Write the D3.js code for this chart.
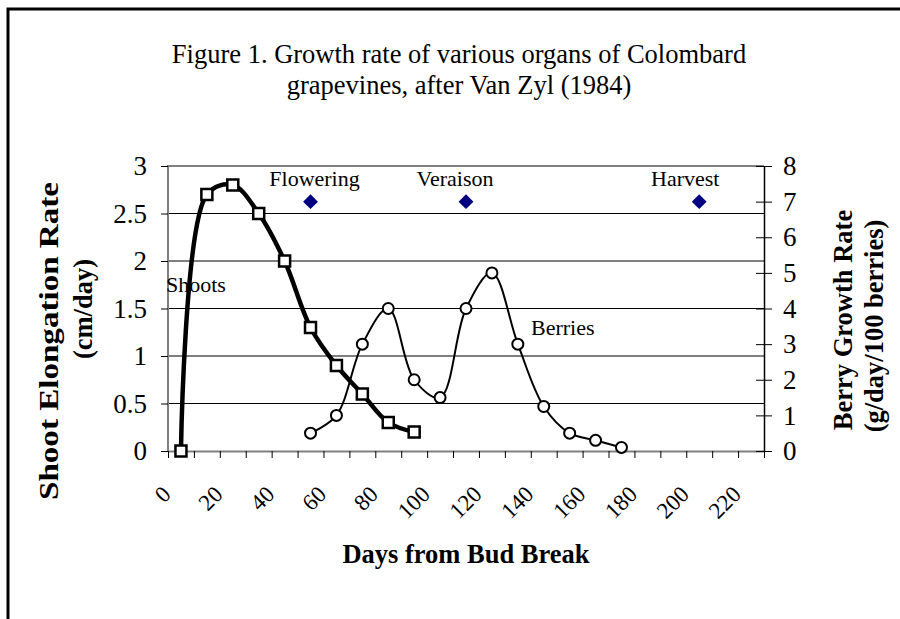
<!DOCTYPE html>
<html>
<head>
<meta charset="utf-8">
<script src="https://cdn.jsdelivr.net/npm/d3@7"></script>
<style>
  body { margin: 0; background: #fff; }
  svg { display: block; font-family: "Liberation Serif", "Times New Roman", serif; }
</style>
</head>
<body>
<script>
// data
var titleLines = ["Figure 1. Growth rate of various organs of Colombard", "grapevines, after Van Zyl (1984)"];

var shootDays = [5, 15, 25, 35, 45, 55, 65, 75, 85, 95];
var shootRate = [0, 2.7, 2.8, 2.5, 2.0, 1.3, 0.9, 0.6, 0.3, 0.2];

var berryDays = [55, 65, 75, 85, 95, 105, 115, 125, 135, 145, 155, 165, 175];
var berryRate = [0.5, 1, 3, 4, 2, 1.5, 4, 5, 3, 1.25, 0.5, 0.3, 0.1];

var stageNames = ["Flowering", "Veraison", "Harvest"];
var stageDays = [55, 115, 205];
var stageLevel = [7, 7, 7];

var xTicks = d3.range(0, 231, 10);
var xLabels = d3.range(0, 221, 20);
var leftTicks = [0, 0.5, 1, 1.5, 2, 2.5, 3];
var rightTicks = [0, 1, 2, 3, 4, 5, 6, 7, 8];

var width = 900, height = 619;
var plot = { left: 168, right: 764, top: 166, bottom: 451 };

var svg = d3.select("body").append("svg")
    .attr("width", width)
    .attr("height", height);

// outer frame (runs off the right and bottom edge)
svg.append("rect")
    .attr("x", 8).attr("y", 9)
    .attr("width", 1000).attr("height", 700)
    .attr("fill", "#fff")
    .attr("stroke", "#000")
    .attr("stroke-width", 3);

var x = d3.scaleLinear().domain([0, 230]).range([plot.left, plot.right]);
var yL = d3.scaleLinear().domain([0, 3]).range([plot.bottom, plot.top]);
var yR = d3.scaleLinear().domain([0, 8]).range([plot.bottom, plot.top]);

// title
svg.append("g").selectAll("text")
    .data(titleLines)
    .enter().append("text")
    .attr("x", 459)
    .attr("y", function(d, i) { return 63 + i * 31; })
    .attr("text-anchor", "middle")
    .style("font-size", "26.5px")
    .text(function(d) { return d; });

// gridlines
svg.append("g")
    .selectAll("line")
    .data(leftTicks.filter(function(d) { return d > 0 && d < 3; }))
    .enter().append("line")
    .attr("x1", plot.left).attr("x2", plot.right)
    .attr("y1", function(d) { return yL(d); })
    .attr("y2", function(d) { return yL(d); })
    .attr("stroke", "#000")
    .attr("stroke-width", 1);

// plot border (top + left)
svg.append("path")
    .attr("d", "M" + plot.left + "," + plot.bottom + "V" + plot.top + "H" + plot.right)
    .attr("fill", "none")
    .attr("stroke", "#808080")
    .attr("stroke-width", 2);

// x axis
var xAxis = svg.append("g")
    .attr("transform", "translate(0," + plot.bottom + ")")
    .call(d3.axisBottom(x)
        .tickValues(xTicks)
        .tickSize(7)
        .tickSizeOuter(0)
        .tickFormat(function(d) { return xLabels.indexOf(d) >= 0 ? d : ""; }));
xAxis.select(".domain").attr("stroke", "#808080").attr("stroke-width", 2);
xAxis.selectAll(".tick line").attr("stroke", "#000");
xAxis.selectAll(".tick text")
    .attr("x", 0).attr("y", 0).attr("dy", "0.35em")
    .attr("text-anchor", "end")
    .attr("transform", "translate(-2,39) rotate(-45)")
    .style("font-size", "23px")
    .style("font-family", "Liberation Serif");

// left axis
var leftAxis = svg.append("g")
    .attr("transform", "translate(" + plot.left + ",0)")
    .call(d3.axisLeft(yL)
        .tickValues(leftTicks)
        .tickSize(7)
        .tickPadding(14)
        .tickFormat(function(d) { return d; }));
leftAxis.select(".domain").remove();
leftAxis.selectAll(".tick text")
    .style("font-size", "27px")
    .style("font-family", "Liberation Serif");

// right axis
var rightAxis = svg.append("g")
    .attr("transform", "translate(" + plot.right + ",0)")
    .call(d3.axisRight(yR)
        .tickValues(rightTicks)
        .tickSize(8)
        .tickSizeOuter(0)
        .tickPadding(11));
rightAxis.select(".domain").attr("stroke", "#000").attr("stroke-width", 1.5);
rightAxis.selectAll(".tick line").attr("x1", -8);
rightAxis.selectAll(".tick text")
    .style("font-size", "27px")
    .style("font-family", "Liberation Serif");

// axis titles
svg.append("text")
    .attr("transform", "translate(58,341) rotate(-90)")
    .attr("text-anchor", "middle")
    .attr("textLength", 318)
    .attr("lengthAdjust", "spacingAndGlyphs")
    .style("font-size", "27px").style("font-weight", "bold")
    .text("Shoot Elongation Rate");
svg.append("text")
    .attr("transform", "translate(92,309) rotate(-90)")
    .attr("text-anchor", "middle")
    .style("font-size", "26.5px").style("font-weight", "bold")
    .text("(cm/day)");
svg.append("text")
    .attr("transform", "translate(852,320) rotate(-90)")
    .attr("text-anchor", "middle")
    .style("font-size", "26.5px").style("font-weight", "bold")
    .text("Berry Growth Rate");
svg.append("text")
    .attr("transform", "translate(883,326) rotate(-90)")
    .attr("text-anchor", "middle")
    .style("font-size", "26.5px").style("font-weight", "bold")
    .text("(g/day/100 berries)");
svg.append("text")
    .attr("x", 466).attr("y", 563)
    .attr("text-anchor", "middle")
    .style("font-size", "26.5px").style("font-weight", "bold")
    .text("Days from Bud Break");

// series
var shoots = shootDays.map(function(d, i) { return { day: d, v: shootRate[i] }; });
var berries = berryDays.map(function(d, i) { return { day: d, v: berryRate[i] }; });

var shootLine = d3.line()
    .x(function(d) { return x(d.day); })
    .y(function(d) { return yL(d.v); })
    .curve(d3.curveCatmullRom.alpha(0.5));
var berryLine = d3.line()
    .x(function(d) { return x(d.day); })
    .y(function(d) { return yR(d.v); })
    .curve(d3.curveCatmullRom.alpha(0.5));

svg.append("path")
    .datum(berries)
    .attr("d", berryLine)
    .attr("fill", "none")
    .attr("stroke", "#000")
    .attr("stroke-width", 2);

svg.append("path")
    .datum(shoots)
    .attr("d", shootLine)
    .attr("fill", "none")
    .attr("stroke", "#000")
    .attr("stroke-width", 4.5);

svg.append("g").selectAll("circle")
    .data(berries)
    .enter().append("circle")
    .attr("cx", function(d) { return x(d.day); })
    .attr("cy", function(d) { return yR(d.v); })
    .attr("r", 5.5)
    .attr("fill", "#fff")
    .attr("stroke", "#000")
    .attr("stroke-width", 2);

svg.append("g").selectAll("rect")
    .data(shoots)
    .enter().append("rect")
    .attr("x", function(d) { return x(d.day) - 5.5; })
    .attr("y", function(d) { return yL(d.v) - 5.5; })
    .attr("width", 11).attr("height", 11)
    .attr("fill", "#fff")
    .attr("stroke", "#000")
    .attr("stroke-width", 2.5);

// stage markers
var labelShift = [4, -11, -14];
svg.append("g").selectAll("path")
    .data(stageDays)
    .enter().append("path")
    .attr("d", d3.symbol().type(d3.symbolSquare).size(110))
    .attr("transform", function(d, i) {
        return "translate(" + x(d) + "," + yR(stageLevel[i]) + ") rotate(45)";
    })
    .attr("fill", "#000080");

svg.append("g").selectAll("text")
    .data(stageNames)
    .enter().append("text")
    .attr("x", function(d, i) { return x(stageDays[i]) + labelShift[i]; })
    .attr("y", function(d, i) { return yR(stageLevel[i]) - 16; })
    .attr("text-anchor", "middle")
    .style("font-size", "22px")
    .text(function(d) { return d; });

// series labels
svg.append("text")
    .attr("x", 166).attr("y", 292)
    .style("font-size", "22px")
    .text("Shoots");
svg.append("text")
    .attr("x", 531).attr("y", 335)
    .style("font-size", "22px")
    .text("Berries");
</script>
</body>
</html>
